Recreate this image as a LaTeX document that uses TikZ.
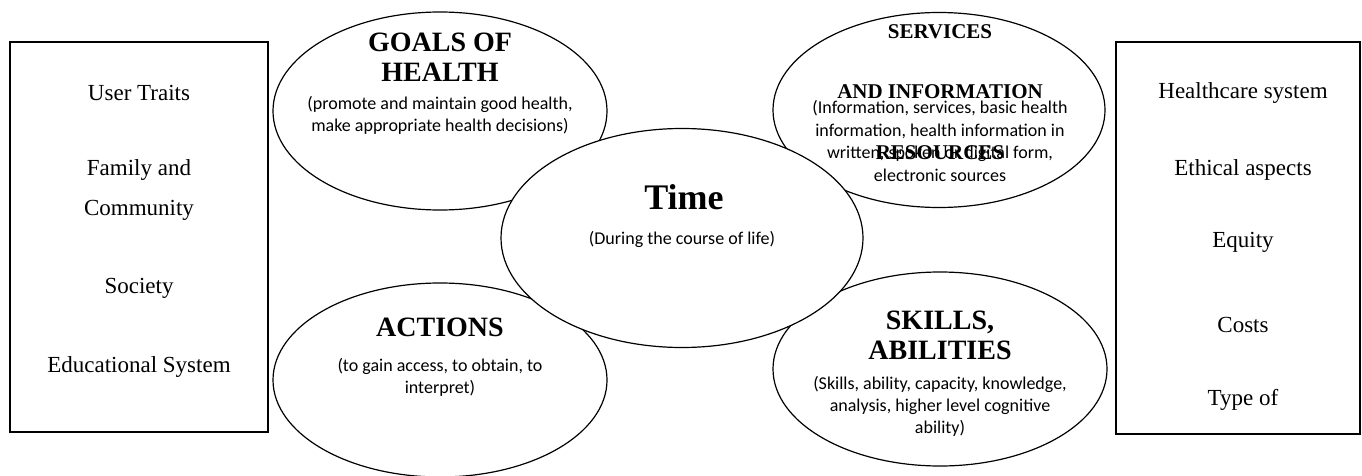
\documentclass[tikz,border=0pt]{standalone}
\usepackage{fontspec}
\setmainfont{Liberation Serif}
\newfontfamily\calibri{Carlito}
\usepackage{tikz}
\usetikzlibrary{shapes.geometric}

\begin{document}
\begin{tikzpicture}[x=1pt,y=-1pt,
  bubble/.style 2 args={ellipse,draw,fill=white,line width=1.2pt,minimum width=#1pt,minimum height=#2pt,inner sep=0pt},
  panel/.style 2 args={rectangle,draw,line width=1.2pt,minimum width=#1pt,minimum height=#2pt,inner sep=0pt},
  head/.style={font=\fontsize{28}{30}\selectfont\bfseries,align=center,inner sep=0pt},
  note/.style={font=\calibri\fontsize{18}{22}\selectfont,align=center,inner sep=0pt},
  item/.style={font=\fontsize{23}{40}\selectfont,align=center,inner sep=0pt}]
\useasboundingbox (0,0) rectangle (1362,476);
% side panels
\node[panel={258}{390}] (factors) at (139,237) {};
\node[panel={244}{392}] (context) at (1238,238) {};
\foreach \y/\lbl in %
{93/User Traits,190/{Family and\\Community},288/Society,367/Educational System} {
   \node[item] (factors-\y) at (139,\y) {\lbl};
}
\foreach \y/\lbl in %
{93/Healthcare system,170/Ethical aspects,242/Equity,325/Costs,400/Type of} {
   \node[item] (context-\y) at (1243,\y) {\lbl};
}
% outer bubbles, then time on top
\node[bubble={334}{198}] (goals) at (440,111) {};
\node[bubble={332}{195}] (services) at (939,110) {};
\node[bubble={334}{194}] (actions) at (440,380) {};
\node[bubble={334}{194}] (skills) at (940,369) {};
\node[bubble={362}{219}] (time) at (682,238) {};
% texts
\node[head] (goals-title) at (440,57) {GOALS OF\\HEALTH};
\node[note] (goals-note) at (440,115) {(promote and maintain good health,\\make appropriate health decisions)};
\node[head,font=\fontsize{21}{60.5}\selectfont\bfseries] (services-title) at (940,92) {SERVICES\\AND INFORMATION\\RESOURCES};
\node[note,font=\calibri\fontsize{18}{22.7}\selectfont] (services-note) at (940,141) {(Information, services, basic health\\information, health information in\\written, spoken or digital form,\\electronic sources};
\node[head,font=\fontsize{36}{40}\selectfont\bfseries] (time-title) at (684,197) {Time};
\node[note] (time-note) at (682,239) {(During the course of life)};
\node[head] (actions-title) at (440,327) {ACTIONS};
\node[note] (actions-note) at (440,377) {(to gain access, to obtain, to\\interpret)};
\node[head] (skills-title) at (940,335) {SKILLS,\\ABILITIES};
\node[note] (skills-note) at (940,406) {(Skills, ability, capacity, knowledge,\\analysis, higher level cognitive\\ability)};
\end{tikzpicture}
\end{document}
